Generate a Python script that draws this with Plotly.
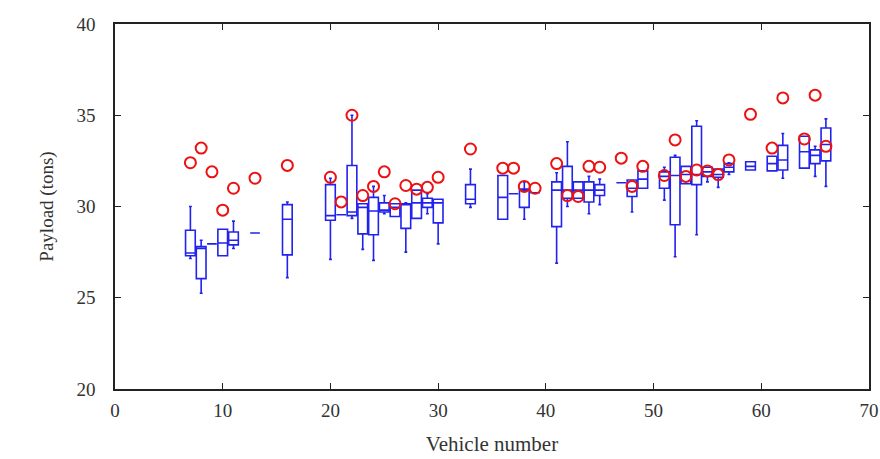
import plotly.graph_objects as go

vehicles = [7, 8, 9, 10, 11, 13, 16, 20, 21, 22, 23, 24, 25, 26, 27, 28, 29, 30, 33, 36, 37, 38, 39,
            41, 42, 43, 44, 45, 47, 48, 49, 51, 52, 53, 54, 55, 56, 57, 59, 61, 62, 64, 65, 66]
low = [27.15, 25.25, 27.95, 27.3, 27.7, 28.55, 26.1, 27.1, 29.55, 29.35, 27.65, 27.05, 29.6, 29.45, 27.5,
       29.35, 29.6, 27.95, 29.95, 29.3, 30.7, 29.3, 30.75, 26.9, 30.0, 30.45, 29.6, 30.1, 31.3, 29.7,
       31.0, 30.35, 27.25, 31.25, 28.45, 31.35, 31.05, 31.75, 32.0, 31.95, 31.55, 32.1, 31.65, 31.1]
q1 = [27.3, 26.05, 27.95, 27.3, 27.9, 28.55, 27.35, 29.25, 29.55, 29.5, 28.5, 28.45, 29.7, 29.45, 28.8,
      29.35, 29.95, 29.1, 30.15, 29.3, 30.7, 29.95, 30.75, 28.9, 30.45, 30.45, 30.25, 30.6, 31.3, 30.55,
      31.0, 31.0, 29.0, 31.25, 31.2, 31.65, 31.6, 31.9, 32.0, 31.95, 32.0, 32.1, 32.35, 32.5]
med = [27.45, 27.7, 27.95, 28.0, 28.15, 28.55, 29.3, 29.5, 29.55, 29.7, 29.95, 29.75, 29.8, 29.95, 30.1,
       30.2, 30.2, 30.2, 30.4, 30.5, 30.7, 30.9, 30.75, 30.9, 30.9, 30.9, 30.9, 30.9, 31.3, 31.0,
       31.5, 31.65, 31.7, 31.75, 31.75, 31.9, 31.75, 32.15, 32.2, 32.35, 32.55, 33.0, 32.8, 33.4]
q3 = [28.7, 27.8, 27.95, 28.75, 28.6, 28.55, 30.1, 31.2, 29.55, 32.25, 30.15, 30.5, 30.2, 30.15, 30.15,
      30.9, 30.45, 30.4, 31.2, 31.7, 30.7, 30.95, 30.75, 31.35, 32.2, 31.35, 31.35, 31.2, 31.3, 31.45,
      31.95, 31.9, 32.7, 32.2, 34.4, 32.15, 32.05, 32.35, 32.45, 32.75, 33.35, 33.85, 33.1, 34.3]
high = [30.0, 28.15, 27.95, 28.75, 29.2, 28.55, 30.25, 31.55, 29.55, 35.0, 30.15, 31.1, 30.6, 30.15, 30.2,
        30.9, 30.7, 30.4, 32.05, 31.7, 30.7, 31.35, 30.75, 31.85, 33.55, 31.35, 31.65, 31.5, 31.3, 31.45,
        31.95, 32.15, 32.8, 32.2, 34.7, 32.15, 32.05, 32.4, 32.45, 32.75, 34.0, 33.85, 33.3, 34.8]
circle = [32.4, 33.2, 31.9, 29.8, 31.0, 31.55, 32.25, 31.6, 30.25, 35.0, 30.6, 31.1, 31.9, 30.15, 31.15,
          30.95, 31.05, 31.6, 33.15, 32.1, 32.1, 31.1, 31.0, 32.35, 30.6, 30.55, 32.2, 32.15, 32.65, 31.1,
          32.2, 31.7, 33.65, 31.65, 32.0, 31.95, 31.75, 32.55, 35.05, 33.2, 35.95, 33.7, 36.1, 33.3]

x_ticks = [0, 10, 20, 30, 40, 50, 60, 70]
y_ticks = [20, 25, 30, 35, 40]

fig = go.Figure()
fig.add_trace(go.Box(
    x=vehicles, q1=q1, median=med, q3=q3, lowerfence=low, upperfence=high,
    width=0.9, whiskerwidth=0.3, boxpoints=False,
    line=dict(color="#2222ee", width=1.6), fillcolor="rgba(0,0,0,0)",
    showlegend=False, hoverinfo="skip",
))
fig.add_trace(go.Scatter(
    x=vehicles, y=circle, mode="markers",
    marker=dict(symbol="circle-open", size=11, color="#ee1111", line=dict(width=2, color="#ee1111")),
    showlegend=False,
))

font = "Liberation Serif, Times New Roman, serif"
fig.update_layout(
    width=880, height=459,
    margin=dict(l=115, r=11, t=24, b=70),
    paper_bgcolor="white", plot_bgcolor="white",
    font=dict(family=font, size=19, color="#333333"),
)
fig.update_xaxes(
    range=[0, 70], tickvals=x_ticks, ticks="inside", ticklen=6, tickcolor="#222",
    showline=True, linecolor="#222", linewidth=1.5, mirror="ticks",
    showgrid=False, zeroline=False, ticklabelstandoff=3, automargin=False,
    title=dict(text="Vehicle number", font=dict(size=21, family=font, color="#333"), standoff=17),
)
fig.update_yaxes(
    range=[20, 40], tickvals=y_ticks, ticks="inside", ticklen=6, tickcolor="#222",
    showline=True, linecolor="#222", linewidth=1.5, mirror="ticks",
    showgrid=False, zeroline=False, ticklabelstandoff=14, automargin=False,
    title=dict(text="Payload (tons)", font=dict(size=19, family=font, color="#333"), standoff=18),
)
fig.write_html(
    "out.html",
    config={"displayModeBar": False},
    post_script="document.body.style.margin='0';document.body.style.overflow='hidden';",
)
